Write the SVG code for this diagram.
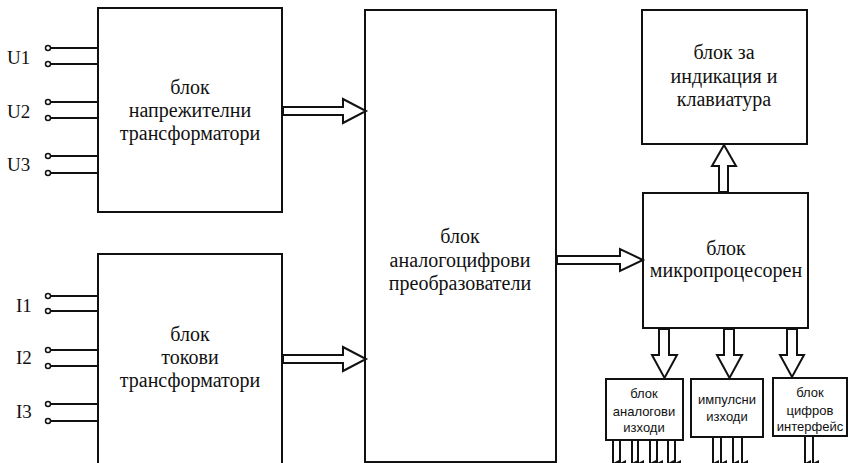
<svg xmlns="http://www.w3.org/2000/svg" width="852" height="463" viewBox="0 0 852 463">
<style>
.box{fill:#fff;stroke:#111;stroke-width:2}
.sbox{fill:#fff;stroke:#111;stroke-width:2}
.t{font-family:"Liberation Serif","DejaVu Serif",serif;font-size:20px;fill:#111;text-anchor:middle}
.lab{font-family:"Liberation Serif","DejaVu Serif",serif;font-size:19px;fill:#111}
.s{font-family:"Liberation Sans","DejaVu Sans",sans-serif;font-size:13px;fill:#111;text-anchor:middle}
.w{stroke:#111;stroke-width:2;fill:none}
.pin{fill:#fff;stroke:#111;stroke-width:1.5}
.ar{fill:#fff;stroke:#111;stroke-width:2;stroke-linejoin:miter}
.out{stroke:#111;stroke-width:2;marker-end:url(#tip)}
</style>
<defs>
<marker id="tip" viewBox="0 0 6 6" refX="3" refY="6" markerWidth="6" markerHeight="6" markerUnits="userSpaceOnUse" orient="auto-start-reverse">
<path d="M0,0 L6,0 L3,6 Z" fill="#111"/>
</marker>
</defs>

<g id="voltage-transformers">
<rect class="box" x="98" y="8" width="184" height="204"/>
<text class="t" x="190" y="94">блок</text>
<text class="t" x="190" y="117">напрежителни</text>
<text class="t" x="190" y="140">трансформатори</text>
</g>

<g id="current-transformers">
<rect class="box" x="98" y="254" width="184" height="212"/>
<text class="t" x="190" y="341">блок</text>
<text class="t" x="190" y="364">токови</text>
<text class="t" x="190" y="387">трансформатори</text>
</g>

<g id="adc">
<rect class="box" x="365" y="10" width="191" height="452"/>
<text class="t" x="460" y="243">блок</text>
<text class="t" x="460" y="267">аналогоцифрови</text>
<text class="t" x="460" y="290">преобразователи</text>
</g>

<g id="display-keyboard">
<rect class="box" x="642" y="10" width="165" height="134"/>
<text class="t" x="724" y="59">блок за</text>
<text class="t" x="724" y="83">индикация и</text>
<text class="t" x="724" y="106">клавиатура</text>
</g>

<g id="microprocessor">
<rect class="box" x="643" y="193" width="165" height="135"/>
<text class="t" x="726" y="255">блок</text>
<text class="t" x="726" y="277">микропроцесорен</text>
</g>

<g id="analog-outputs">
<rect class="sbox" x="606" y="379" width="77" height="61"/>
<text class="s" x="644" y="398">блок</text>
<text class="s" x="644" y="416">аналогови</text>
<text class="s" x="644" y="432">изходи</text>
</g>

<g id="pulse-outputs">
<rect class="sbox" x="691" y="379" width="72" height="58"/>
<text class="s" x="727" y="404">импулсни</text>
<text class="s" x="727" y="421">изходи</text>
</g>

<g id="digital-interface">
<rect class="sbox" x="773" y="378" width="74" height="58"/>
<text class="s" x="810" y="397">блок</text>
<text class="s" x="810" y="415">цифров</text>
<text class="s" x="810" y="431">интерфейс</text>
</g>

<g id="input-labels">
<text class="lab" x="7" y="64">U1</text>
<text class="lab" x="7" y="118">U2</text>
<text class="lab" x="7" y="171">U3</text>
<text class="lab" x="16" y="312">I1</text>
<text class="lab" x="16" y="364">I2</text>
<text class="lab" x="16" y="418">I3</text>
</g>

<g id="connectors">
<path class="w" d="M50.5,48H98 M50.5,64H98 M50.5,102H98 M50.5,118H98 M50.5,156H98 M50.5,173H98 M50.5,296H98 M50.5,311H98 M50.5,350H98 M50.5,366H98 M50.5,404H98 M50.5,421H98"/>
<circle class="pin" cx="48" cy="48" r="2.5"/>
<circle class="pin" cx="48" cy="64" r="2.5"/>
<circle class="pin" cx="48" cy="102" r="2.5"/>
<circle class="pin" cx="48" cy="118" r="2.5"/>
<circle class="pin" cx="48" cy="156" r="2.5"/>
<circle class="pin" cx="48" cy="173" r="2.5"/>
<circle class="pin" cx="48" cy="296" r="2.5"/>
<circle class="pin" cx="48" cy="311" r="2.5"/>
<circle class="pin" cx="48" cy="350" r="2.5"/>
<circle class="pin" cx="48" cy="366" r="2.5"/>
<circle class="pin" cx="48" cy="404" r="2.5"/>
<circle class="pin" cx="48" cy="421" r="2.5"/>

<polygon class="ar" points="283,107 343,107 343,99 366,111 343,123 343,115 283,115"/>
<polygon class="ar" points="283,355 343,355 343,347 366,359 343,371 343,363 283,363"/>
<polygon class="ar" points="557,256 620,256 620,249 643,260 620,271 620,264 557,264"/>
<polygon class="ar" points="719,192 719,166 712,166 724,145 736,166 728,166 728,192"/>
<polygon class="ar" points="659,329 659,355 652,355 664.5,378 677,355 669,355 669,329"/>
<polygon class="ar" points="724,329 724,355 717,355 729.5,378 742,355 734,355 734,329"/>
<polygon class="ar" points="787,329 787,355 780,355 792,377 804,355 797,355 797,329"/>

<line class="out" x1="613" y1="441" x2="613" y2="463"/>
<line class="out" x1="620" y1="441" x2="620" y2="463"/>
<line class="out" x1="632" y1="441" x2="632" y2="463"/>
<line class="out" x1="638" y1="441" x2="638" y2="463"/>
<line class="out" x1="650" y1="441" x2="650" y2="463"/>
<line class="out" x1="657" y1="441" x2="657" y2="463"/>
<line class="out" x1="668" y1="441" x2="668" y2="463"/>
<line class="out" x1="675" y1="441" x2="675" y2="463"/>
<line class="out" x1="713" y1="438" x2="713" y2="463"/>
<line class="out" x1="721" y1="438" x2="721" y2="463"/>
<line class="out" x1="733" y1="438" x2="733" y2="463"/>
<line class="out" x1="742" y1="438" x2="742" y2="463"/>
<line class="out" x1="805" y1="437" x2="805" y2="463"/>
<line class="out" x1="813" y1="437" x2="813" y2="463"/>
</g>
</svg>
